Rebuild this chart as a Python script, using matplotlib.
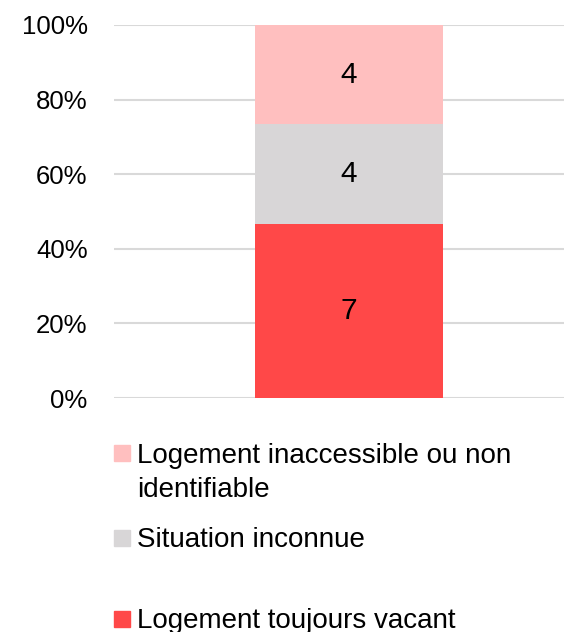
import matplotlib
matplotlib.use("Agg")
import matplotlib.pyplot as plt
from matplotlib.patches import Rectangle

plt.rcParams['font.family'] = ['Liberation Sans', 'DejaVu Sans']

series = ["Logement toujours vacant", "Situation inconnue", "Logement inaccessible ou non\nidentifiable"]
values = [7, 4, 4]
colors = ["#FF4848", "#D8D6D7", "#FFBFBF"]
ytick_labels = ["0%", "20%", "40%", "60%", "80%", "100%"]

W, H = 564, 632
fig = plt.figure(figsize=(W / 100, H / 100), dpi=100)
ax = fig.add_axes([114 / W, 1 - 398 / H, 450 / W, 373 / H])

total = sum(values)
bottom = 0.0
for name, v, c in zip(series, values, colors):
    frac = v / total
    ax.bar([0], [frac], bottom=bottom, width=0.418, color=c, zorder=2)
    ax.text(0, bottom + frac / 2, str(v), ha="center", va="center", fontsize=21.5, color="black", zorder=3)
    bottom += frac

ax.set_xlim(-0.522, 0.478)
ax.set_ylim(0, 1)
ax.set_yticks([i / 5 for i in range(6)])
ax.set_yticklabels(ytick_labels, fontsize=18.5)
ax.set_xticks([])
ax.grid(axis="y", color="#D9D9D9", linewidth=1.5, zorder=0)
ax.tick_params(axis="y", length=0, pad=19)
for s in ax.spines.values():
    s.set_visible(False)

# legend (top series first)
legend_baseline = [462, 547, 628]
line_gap = 35
for (name, c), yb in zip(list(zip(series, colors))[::-1], legend_baseline):
    fig.patches.append(Rectangle((114 / W, 1 - (yb - 1) / H), 16 / W, 16 / H,
                                 transform=fig.transFigure, color=c))
    nlines = name.count("\n") + 1
    fig.text(137 / W, 1 - (yb + line_gap * (nlines - 1)) / H, name, ha="left",
             va="baseline", fontsize=20, linespacing=1.38)

fig.savefig("out.png", dpi=100)
